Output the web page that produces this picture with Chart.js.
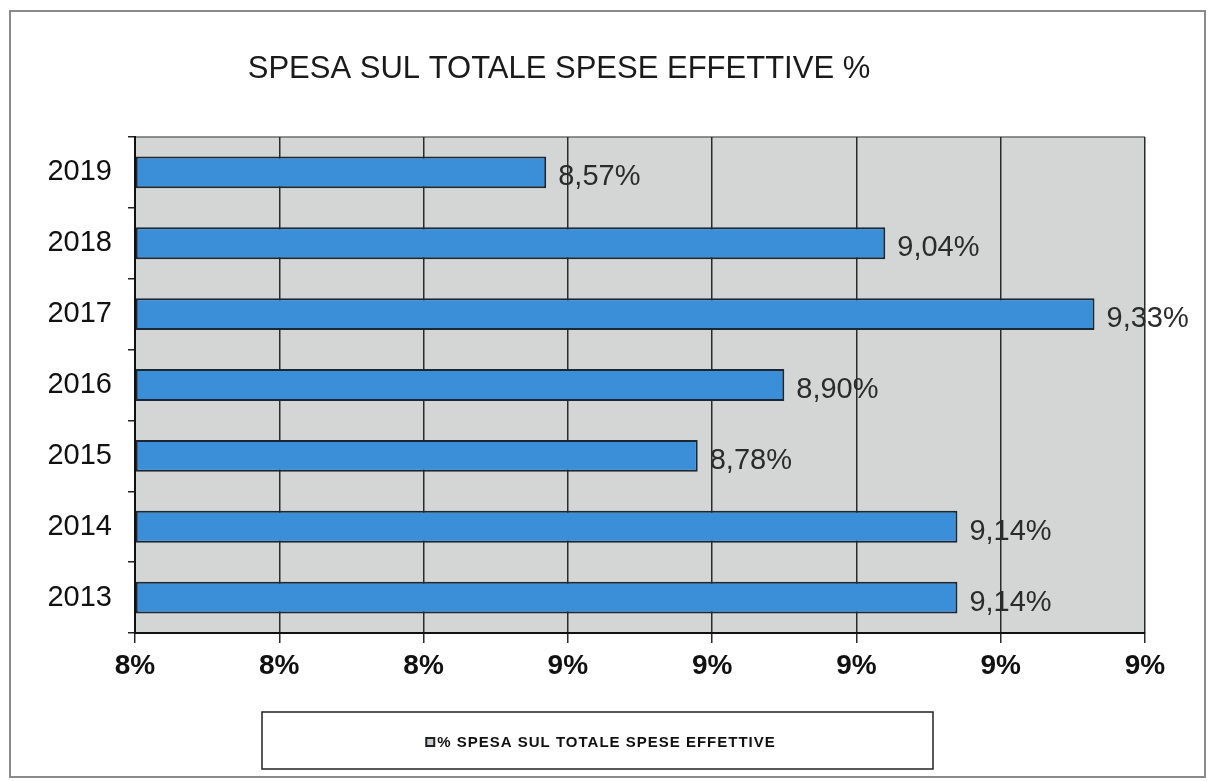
<!DOCTYPE html>
<html>
<head>
<meta charset="utf-8">
<script src="https://cdn.jsdelivr.net/npm/chart.js@4"></script>
<style>
  html, body { margin: 0; padding: 0; background: #fff; }
  #wrap { width: 1208px; height: 781px; position: relative; }
</style>
</head>
<body>
<div id="wrap"><canvas id="spesaChart"></canvas></div>
<script>
  "use strict";

  // data
  const years = ["2019", "2018", "2017", "2016", "2015", "2014", "2013"];
  const spesaPct = [8.57, 9.04, 9.33, 8.9, 8.78, 9.14, 9.14];
  const xTicks = [8, 8.2, 8.4, 8.6, 8.8, 9, 9.2, 9.4];
  const titleText = "SPESA SUL TOTALE SPESE EFFETTIVE %";
  const legendText = "% SPESA SUL TOTALE SPESE EFFETTIVE";

  const FONT = "'Liberation Sans', Arial, sans-serif";

  function fmtPct(v) {
    return v.toFixed(2).replace(".", ",") + "%";
  }

  /**
   * Frame, grey plot background, title, legend box and value labels
   */
  const decorPlugin = {
    id: "decor",
    beforeDraw(chart) {
      const { ctx, chartArea: a } = chart;
      ctx.save();
      ctx.fillStyle = "#fff";
      ctx.fillRect(0, 0, chart.width, chart.height);
      // outer frame
      ctx.strokeStyle = "#8a8a8a";
      ctx.lineWidth = 2;
      ctx.strokeRect(10, 11, 1195, 766);
      // plot background
      ctx.fillStyle = "#d4d6d5";
      ctx.fillRect(a.left, a.top, a.right - a.left, a.bottom - a.top);
      ctx.strokeStyle = "#6d6d6d";
      ctx.lineWidth = 1.5;
      ctx.beginPath();
      ctx.moveTo(a.left, a.top);
      ctx.lineTo(a.right, a.top);
      ctx.stroke();
      ctx.restore();
    },
    afterDraw(chart) {
      const { ctx } = chart;
      ctx.save();
      // title
      ctx.fillStyle = "#1a1a1a";
      ctx.font = "31px " + FONT;
      ctx.textAlign = "center";
      ctx.textBaseline = "alphabetic";
      ctx.fillText(titleText, 559, 78);

      // legend box
      ctx.strokeStyle = "#222";
      ctx.lineWidth = 1.5;
      ctx.strokeRect(262, 712, 671, 57);
      ctx.font = "bold 15px " + FONT;
      ctx.letterSpacing = "1px";
      const tw = ctx.measureText(legendText).width;
      const x0 = 601 - (tw + 11) / 2;
      ctx.fillStyle = "#c9ccd0";
      ctx.fillRect(x0, 738, 8, 8);
      ctx.lineWidth = 2;
      ctx.strokeRect(x0, 738, 8, 8);
      ctx.fillStyle = "#111";
      ctx.textAlign = "left";
      ctx.textBaseline = "middle";
      ctx.fillText(legendText, x0 + 11, 743);
      ctx.letterSpacing = "0px";

      // value labels at bar ends
      const meta = chart.getDatasetMeta(0);
      ctx.font = "29px " + FONT;
      ctx.fillStyle = "#2b2b2b";
      meta.data.forEach((bar, i) => {
        ctx.fillText(fmtPct(spesaPct[i]), bar.x + 12, bar.y + 5);
      });
      ctx.restore();
    },
  };

  new Chart(document.getElementById("spesaChart"), {
    type: "bar",
    data: {
      labels: years,
      datasets: [
        {
          label: legendText,
          data: spesaPct,
          base: 8,
          backgroundColor: "#3b8fd8",
          borderColor: "#1b2733",
          borderWidth: 2,
          borderSkipped: false,
          categoryPercentage: 1,
          barPercentage: 0.45,
        },
      ],
    },
    options: {
      indexAxis: "y",
      responsive: true,
      maintainAspectRatio: false,
      animation: false,
      layout: {
        padding: { top: 137, left: 0, right: 63, bottom: 88 },
      },
      plugins: {
        legend: { display: false },
        title: { display: false },
        tooltip: { enabled: false },
      },
      scales: {
        x: {
          min: 8,
          max: 9.4,
          afterFit(scale) {
            scale.height = 60;
          },
          afterBuildTicks(scale) {
            scale.ticks = xTicks.map((v) => ({ value: v }));
          },
          ticks: {
            callback: (v) => Math.round(v) + "%",
            color: "#111",
            font: { family: FONT, size: 28, weight: "bold" },
            padding: 6,
            maxRotation: 0,
            autoSkip: false,
          },
          grid: {
            color: "#2a2a2a",
            lineWidth: 1.5,
            tickLength: 10,
          },
          border: { color: "#111", width: 2 },
        },
        y: {
          afterFit(scale) {
            scale.width = 135;
          },
          ticks: {
            color: "#111",
            font: { family: FONT, size: 29 },
            padding: 16,
          },
          grid: {
            offset: true,
            drawOnChartArea: false,
            color: "#222",
            tickLength: 7,
            lineWidth: 1.5,
          },
          border: { color: "#111", width: 2 },
        },
      },
    },
    plugins: [decorPlugin],
  });
</script>
</body>
</html>
